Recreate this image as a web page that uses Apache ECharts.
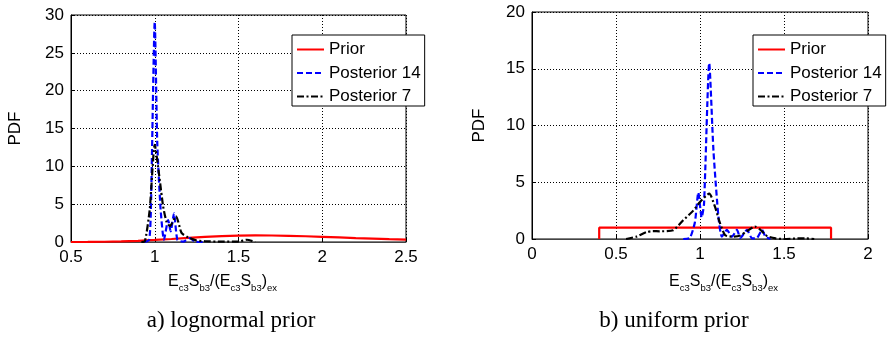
<!DOCTYPE html>
<html>
<head>
<meta charset="utf-8">
<script src="https://cdn.jsdelivr.net/npm/echarts@6/dist/echarts.min.js"></script>
<style>
html,body{margin:0;padding:0;background:#fff;}
#chart{width:888px;height:339px;}
</style>
</head>
<body>
<div id="chart"></div>
<script>
// ---------- data ----------
const seriesNames = ['Prior', 'Posterior 14', 'Posterior 7'];

// a) lognormal prior
const priorLX = [0.5,0.6,0.7,0.8,0.9,1.0,1.1,1.2,1.3,1.4,1.5,1.6,1.7,1.8,1.9,2.0,2.1,2.2,2.3,2.4,2.5];
const priorLY = [0.0,0.01,0.03,0.08,0.16,0.27,0.4,0.54,0.67,0.77,0.84,0.87,0.86,0.82,0.76,0.68,0.6,0.52,0.45,0.38,0.32];
const post14LX = [0.94,0.967,0.977,1.0,1.015,1.035,1.055,1.08,1.095,1.115,1.135,1.17,1.21,1.24,1.3];
const post14LY = [0,0.3,4.3,29.1,13.1,4.3,0.3,2.9,1.4,3.8,0.3,0.05,0.5,0.05,0];
const post7LX = [0.92,0.94,0.97,1.0,1.027,1.05,1.07,1.09,1.127,1.16,1.2,1.25,1.3,1.4,1.5,1.55,1.6];
const post7LY = [0,0.05,4.3,12.85,8.7,4.7,2.7,2.1,3.4,1.2,0.6,0.2,0.1,0.05,0.05,0.3,0];

// b) uniform prior
const priorRX = [0.4,0.4,1.78,1.78];
const priorRY = [0,1,1,0];
const post14RX = [0.9,0.94,0.97,0.99,1.01,1.024,1.055,1.08,1.11,1.13,1.16,1.19,1.22,1.24,1.28,1.31,1.34,1.37,1.39,1.42];
const post14RY = [0,0.1,1.5,4.1,1.9,3.1,15.5,7.8,1.9,0.2,0.8,0.2,0.8,0.1,0.8,0.05,0.1,0.8,0.2,0];
const post7RX = [0.56,0.62,0.68,0.72,0.76,0.84,0.9,0.96,1.0,1.055,1.09,1.12,1.15,1.2,1.24,1.28,1.327,1.36,1.4,1.45,1.5,1.58,1.63,1.68];
const post7RY = [0,0.2,0.6,0.7,0.68,0.77,1.65,2.5,3.26,4.0,2.8,1.35,0.33,0.2,0.3,0.7,1.1,0.8,0.25,0.05,0,0.05,0.05,0];

// axis ranges / ticks
const xRangeL = [0.5, 2.5, 0.5];
const yRangeL = [0, 30, 5];
const xRangeR = [0, 2, 0.5];
const yRangeR = [0, 20, 5];

const yAxisLabel = 'PDF';
const captions = ['a) lognormal prior', 'b) uniform prior'];

// ---------- helpers ----------
const zip = (xs, ys) => xs.map((x, i) => [x, ys[i]]);
const SANS = 'Liberation Sans, Arial, sans-serif';
const SERIF = 'Liberation Serif, Times New Roman, serif';

function xAxisCfg(gi, r) {
  return {
    type: 'value', gridIndex: gi, min: r[0], max: r[1], interval: r[2],
    axisLine: { show: true, lineStyle: { color: '#444', width: 1 } },
    axisTick: { show: true, inside: true, length: 4, lineStyle: { color: '#000' } },
    axisLabel: { fontSize: 17, color: '#000', fontFamily: SANS, margin: 7 },
    splitLine: { show: true, lineStyle: { color: '#000', type: [1, 2], width: 1 } }
  };
}
function yAxisCfg(gi, r, gap) {
  return {
    type: 'value', gridIndex: gi, min: r[0], max: r[1], interval: r[2],
    name: yAxisLabel, nameLocation: 'middle', nameGap: gap, nameRotate: 90,
    nameTextStyle: { fontSize: 17, color: '#000', fontFamily: SANS },
    axisLine: { show: true, lineStyle: { color: '#000', width: 1 } },
    axisTick: { show: true, inside: true, length: 4, lineStyle: { color: '#000' } },
    axisLabel: { fontSize: 17, color: '#000', fontFamily: SANS, margin: 7 },
    splitLine: { show: true, lineStyle: { color: '#000', type: [1, 2], width: 1 } }
  };
}
const styles = {
  'Prior': { color: '#ff0000', type: 'solid' },
  'Posterior 14': { color: '#0000ff', type: [6, 3] },
  'Posterior 7': { color: '#000000', type: [7, 2.5, 2, 2.5] }
};
function mk(name, gi, data) {
  return {
    name, type: 'line', xAxisIndex: gi, yAxisIndex: gi, data,
    symbol: 'none', showSymbol: false, smooth: name === 'Prior' ? false : 0.2,
    lineStyle: { color: styles[name].color, type: styles[name].type, width: 2.2 },
    itemStyle: { color: styles[name].color },
    z: name === 'Posterior 7' ? 4 : 3
  };
}
function legendCfg(left) {
  return {
    left, top: 35, orient: 'vertical', data: seriesNames,
    itemWidth: 27, itemHeight: 14, itemGap: 6.5, padding: [6, 4, 1, 4],
    borderColor: '#000', borderWidth: 1, backgroundColor: '#fff', borderRadius: 0,
    textStyle: { fontSize: 17, color: '#000', fontFamily: SANS },
    itemStyle: { opacity: 0, color: 'rgba(0,0,0,0)', borderWidth: 0 },
    selectedMode: false
  };
}
function xTitle(cx) {
  return {
    type: 'text', left: cx - 53, top: 274, z: 10,
    style: {
      text: '{m|E}{s|c3}{m|S}{s|b3}{m|/(E}{s|c3}{m|S}{s|b3}{m|)}{s|ex}',
      fill: '#000',
      rich: {
        m: { fontSize: 16, fontFamily: SANS, fill: '#000' },
        s: { fontSize: 9.5, fontFamily: SANS, fill: '#000', padding: [12, 0, 0, 0] }
      }
    }
  };
}

const chart = echarts.init(document.getElementById('chart'), null, { renderer: 'canvas' });
chart.setOption({
  animation: false,
  backgroundColor: '#fff',
  grid: [
    { left: 71, top: 15, width: 335, height: 227, show: true, borderColor: '#000', borderWidth: 1, backgroundColor: '#fff' },
    { left: 532, top: 12, width: 336, height: 227, show: true, borderColor: '#000', borderWidth: 1, backgroundColor: '#fff' }
  ],
  xAxis: [xAxisCfg(0, xRangeL), xAxisCfg(1, xRangeR)],
  yAxis: [yAxisCfg(0, yRangeL, 47), yAxisCfg(1, yRangeR, 44)],
  legend: [legendCfg(292), legendCfg(753)],
  series: [
    mk('Prior', 0, zip(priorLX, priorLY)),
    mk('Posterior 14', 0, zip(post14LX, post14LY)),
    mk('Posterior 7', 0, zip(post7LX, post7LY)),
    mk('Prior', 1, zip(priorRX, priorRY)),
    mk('Posterior 14', 1, zip(post14RX, post14RY)),
    mk('Posterior 7', 1, zip(post7RX, post7RY))
  ],
  graphic: [
    xTitle(221), xTitle(722),
    { type: 'text', z: 10, style: { text: captions[0], fill: '#000', font: '23px ' + SERIF, x: 231, y: 321, align: 'center', verticalAlign: 'middle' } },
    { type: 'text', z: 10, style: { text: captions[1], fill: '#000', font: '23px ' + SERIF, x: 674, y: 321, align: 'center', verticalAlign: 'middle' } }
  ]
});
</script>
</body>
</html>
